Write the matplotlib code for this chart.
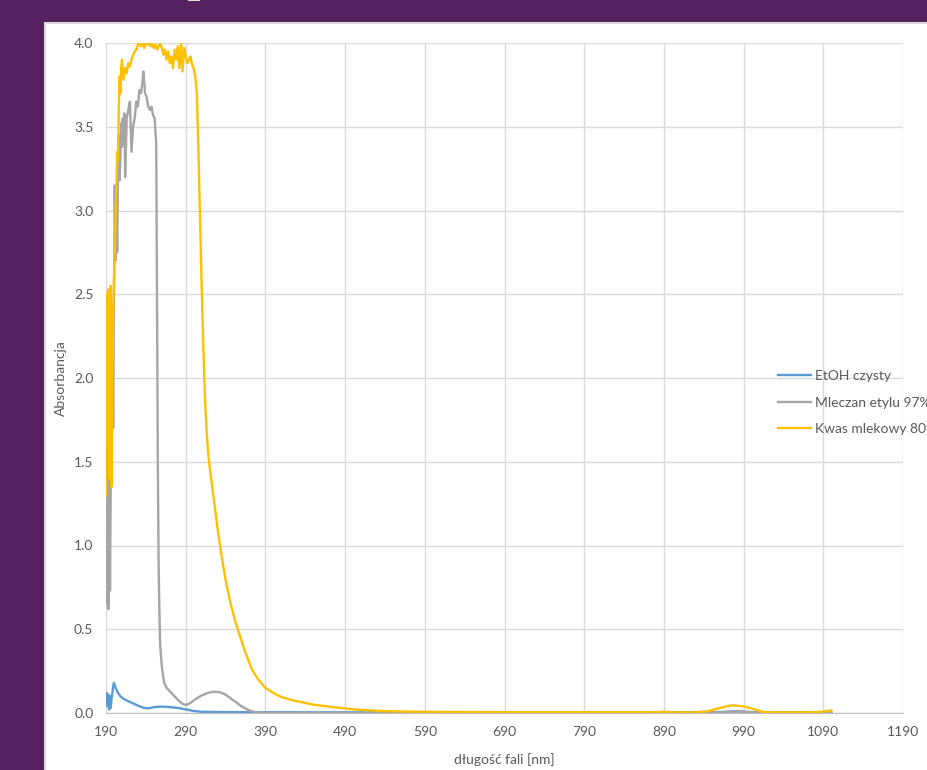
import numpy as np
import matplotlib
matplotlib.use('Agg')
from matplotlib import pyplot as plt
from matplotlib.patches import Rectangle

plt.rcParams['font.family'] = ['Lato', 'DejaVu Sans']

# EtOH czysty
wl_etoh = [190, 191, 192, 193, 194, 195, 196, 197, 198, 199, 200, 202, 205, 208, 212, 218, 225,
           232, 238, 244, 250, 258, 266, 275, 283, 292, 300, 310, 350, 450, 600, 800, 900, 960,
           985, 1000, 1100]
a_etoh = [0.08, 0.12, 0.04, 0.11, 0.02, 0.10, 0.03, 0.09, 0.12, 0.16, 0.18, 0.15, 0.12, 0.10,
          0.085, 0.07, 0.055, 0.04, 0.03, 0.028, 0.035, 0.038, 0.037, 0.033, 0.028, 0.02, 0.012,
          0.007, 0.005, 0.004, 0.004, 0.003, 0.004, 0.006, 0.01, 0.005, 0.004]

# Mleczan etylu 97%
wl_mlecz = [190, 191, 192, 193, 194, 195, 196, 197, 198, 199, 200, 201, 202, 203, 204, 205, 206,
            207, 208, 209, 210, 211, 212, 213, 214, 216, 218, 220, 222, 224, 226, 228, 230, 232,
            234, 236, 237, 239, 241, 243, 245, 247, 249, 251, 253, 254, 255, 256, 257, 258, 260,
            263, 266, 270, 276, 282, 287, 291, 296, 303, 310, 318, 325, 332, 340, 350, 360, 370,
            380, 400, 500, 700, 900, 960, 980, 1000, 1100]
a_mlecz = [1.30, 0.65, 1.80, 0.62, 1.72, 0.73, 1.40, 2.00, 2.36, 1.70, 2.50, 3.15, 2.70, 3.10,
           2.75, 3.20, 3.45, 3.18, 3.30, 3.52, 3.38, 3.55, 3.40, 3.58, 3.20, 3.55, 3.60, 3.65,
           3.35, 3.50, 3.55, 3.65, 3.62, 3.72, 3.70, 3.78, 3.83, 3.70, 3.68, 3.62, 3.60, 3.62,
           3.57, 3.55, 3.40, 2.50, 1.50, 0.90, 0.60, 0.40, 0.28, 0.18, 0.15, 0.13, 0.10, 0.07,
           0.052, 0.048, 0.06, 0.085, 0.105, 0.12, 0.127, 0.125, 0.11, 0.075, 0.04, 0.015,
           0.003, 0.0, 0.0, 0.002, 0.002, 0.004, 0.01, 0.004, 0.002]

# Kwas mlekowy 80%
wl_kwas = [190, 191, 192, 193, 194, 195, 196, 197, 198, 199, 200, 201, 202, 203, 204, 205, 206,
           207, 208, 209, 210, 212, 214, 216, 218, 220, 222, 224, 226, 228, 230, 232, 234, 236,
           238, 240, 242, 244, 246, 248, 250, 252, 254, 256, 258, 260, 262, 264, 266, 268, 270,
           272, 274, 276, 278, 280, 282, 284, 286, 288, 290, 292, 294, 296, 298, 300, 302, 304,
           306, 308, 310, 312, 314, 316, 318, 320, 323, 326, 330, 333, 337, 341, 346, 352, 358,
           365, 373, 381, 390, 400, 410, 425, 450, 475, 500, 534, 570, 620, 700, 800, 880, 890,
           900, 930, 945, 960, 975, 990, 1005, 1015, 1030, 1060, 1085, 1095, 1100]
a_kwas = [1.30, 2.50, 1.60, 2.53, 1.40, 2.30, 2.55, 1.35, 2.00, 2.40, 2.60, 2.75, 3.00, 3.10,
          3.35, 3.30, 3.60, 3.80, 3.70, 3.85, 3.90, 3.78, 3.85, 3.82, 3.88, 3.86, 3.90, 3.93,
          3.95, 3.96, 3.99, 4.00, 3.98, 4.00, 3.97, 4.00, 3.99, 4.00, 3.98, 4.00, 3.97, 3.99,
          3.96, 3.98, 4.00, 3.97, 3.93, 3.96, 3.90, 3.95, 3.88, 3.92, 3.85, 3.96, 3.90, 3.98,
          3.85, 4.00, 3.83, 3.97, 3.92, 3.88, 3.90, 3.92, 3.87, 3.85, 3.80, 3.70, 3.35, 2.95,
          2.55, 2.20, 1.90, 1.70, 1.56, 1.47, 1.36, 1.25, 1.10, 1.00, 0.88, 0.77, 0.66, 0.55,
          0.46, 0.36, 0.26, 0.20, 0.15, 0.12, 0.095, 0.075, 0.05, 0.035, 0.022, 0.012, 0.008,
          0.006, 0.005, 0.005, 0.005, 0.008, 0.004, 0.004, 0.01, 0.03, 0.046, 0.04, 0.02, 0.006,
          0.004, 0.004, 0.006, 0.012, 0.015]

labels = ['EtOH czysty', 'Mleczan etylu 97%', 'Kwas mlekowy 80%']
colors = ['#5B9BD5', '#A5A5A5', '#FFC000']

fig = plt.figure(figsize=(9.27, 7.7), dpi=100)
fig.patch.set_facecolor('#55205E')
# white slide panel behind the chart
panel = Rectangle((45 / 927, -0.01), 1.1, 1.01 - 23 / 770, transform=fig.transFigure,
                  facecolor='white', edgecolor='#D9D9D9', lw=1.5, zorder=-10)
fig.patches.append(panel)
# bottom of the slide title, mostly outside the canvas
fig.text(186 / 927, 1 + 11 / 770, 'p', fontsize=40, family='Liberation Serif',
         color='#D8E2C6', va='baseline', ha='left', zorder=-5)

ax = fig.add_axes([106 / 927, 1 - 713 / 770, 797 / 927, 670 / 770])
ax.set_zorder(1)
ax.set_facecolor('white')

ax.plot(wl_etoh, a_etoh, color=colors[0], lw=1.7, label=labels[0])
ax.plot(wl_mlecz, a_mlecz, color=colors[1], lw=1.7, label=labels[1])
ax.plot(wl_kwas, a_kwas, color=colors[2], lw=1.7, label=labels[2])

ax.set_xlim(190, 1190)
ax.set_ylim(0, 4.0)
ax.set_xticks(np.arange(190, 1191, 100))
ax.set_yticks(np.arange(0, 4.01, 0.5))
ax.set_yticklabels(['%.1f' % v for v in np.arange(0, 4.01, 0.5)])
ax.grid(True, color='#D9D9D9', lw=1)
ax.set_axisbelow(True)
for s in ['top', 'right', 'left']:
    ax.spines[s].set_visible(False)
ax.spines['bottom'].set_color('#BFBFBF')
ax.tick_params(length=0, labelsize=10, colors='#595959', pad=9)

ax.set_xlabel('długość fali [nm]', fontsize=10, color='#595959', labelpad=11)
ax.set_ylabel('Absorbancja', fontsize=10, color='#595959', labelpad=5)

leg = fig.legend(loc='upper left', bbox_to_anchor=(778 / 927, 1 - 370 / 770), frameon=False,
                 fontsize=10, handlelength=2.4, handletextpad=0.25, labelspacing=1.05,
                 borderpad=0, borderaxespad=0)
for t in leg.get_texts():
    t.set_color('#595959')
leg.set_zorder(2)

plt.savefig('out.png', dpi=100, facecolor=fig.get_facecolor())
